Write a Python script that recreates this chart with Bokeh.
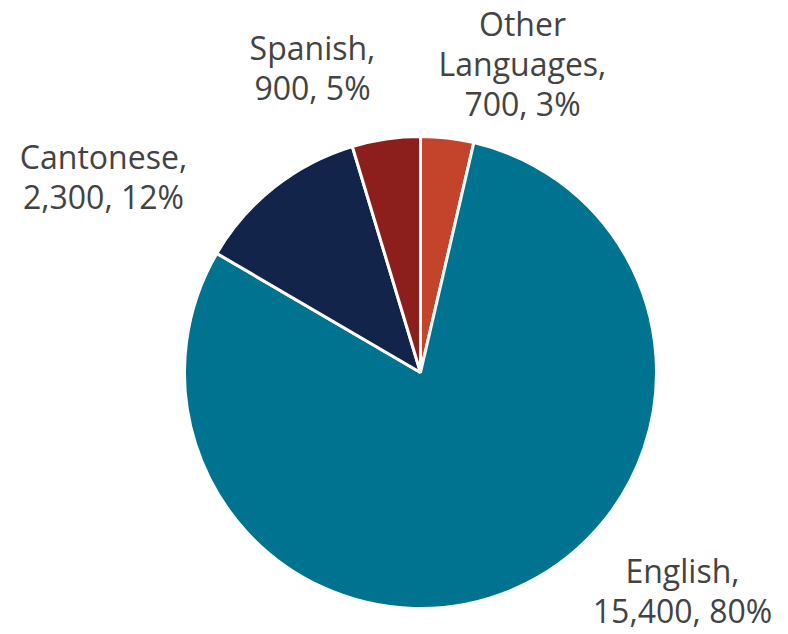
import math
from bokeh.plotting import figure
from bokeh.models import Range1d, ColumnDataSource
from bokeh.core.properties import value
from bokeh.embed import file_html
from bokeh.resources import INLINE

# Data (clockwise from 12 o'clock)
languages = ["Other Languages", "English", "Cantonese", "Spanish"]
speakers = [700, 15400, 2300, 900]
label_text = ["Other\nLanguages,\n700, 3%", "English,\n15,400, 80%", "Cantonese,\n2,300, 12%", "Spanish,\n900, 5%"]
colors = ["#C4432B", "#007390", "#13244A", "#8C1F1B"]

W, H = 788, 634
p = figure(width=W, height=H, output_backend="svg", toolbar_location=None,
           x_range=Range1d(0, W), y_range=Range1d(0, H), min_border=0)
p.axis.visible = False
p.grid.visible = False
p.outline_line_color = None
p.background_fill_color = "white"

cx, cy, r = 420, H - 372, 236
total = sum(speakers)
starts, ends = [], []
cum = 0
for v in speakers:
    starts.append(math.pi / 2 - 2 * math.pi * cum / total)
    cum += v
    ends.append(math.pi / 2 - 2 * math.pi * cum / total)

src = ColumnDataSource(dict(start=starts, end=ends, color=colors, name=languages))
p.wedge(x=cx, y=cy, radius=r, start_angle="start", end_angle="end", direction="clock",
        fill_color="color", line_color="white", line_width=3, source=src)

# label anchor positions (pixel, top-down) -- layout only
label_pos = [(522, 63), (682, 590), (103, 176), (312, 67)]
lsrc = ColumnDataSource(dict(x=[a for a, b in label_pos], y=[H - b for a, b in label_pos], t=label_text))
p.text(x="x", y="y", text="t", source=lsrc, text_font=value("Open Sans"), text_font_size="32px",
       text_color="#434343", text_align="center", text_baseline="middle", text_line_height=0.93)

open("out.html", "w").write(file_html(p, INLINE))
